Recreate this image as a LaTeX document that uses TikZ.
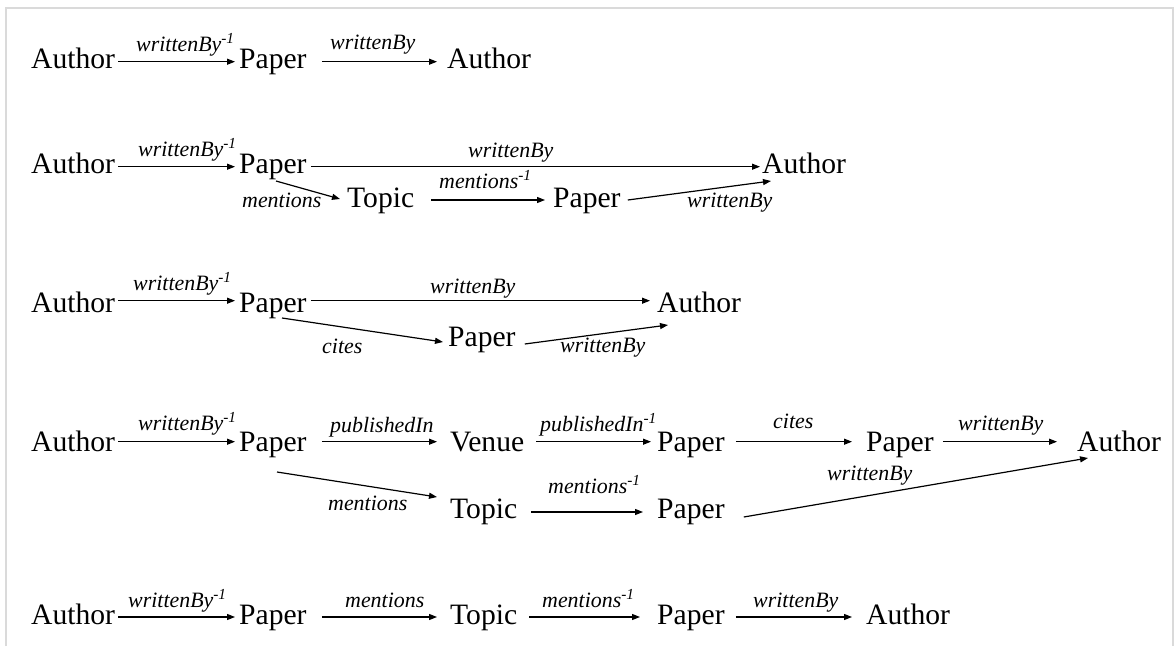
\documentclass[tikz,border=0pt]{standalone}
\usepackage{fontspec}
\setmainfont{Liberation Serif}
\usetikzlibrary{arrows.meta,calc}
\tikzset{
  ent/.style={anchor=base west, inner sep=0pt, font=\fontsize{29.6}{32}\selectfont},
  rel/.style={anchor=base west, inner sep=0pt, font=\fontsize{21.9}{24}\selectfont\itshape},
  arr/.style={line width=1.2pt, -{Triangle[length=8pt,width=6pt]}},
  frame/.style={line width=2pt, draw={rgb,255:red,218;green,218;blue,218}}
}
\newcommand{\inv}{\textsuperscript{-1}}
\begin{document}
\begin{tikzpicture}[x=1pt,y=-1pt]
\useasboundingbox (0,0) rectangle (1175,646);
\draw[frame] (6,646) -- (6,8) -- (1173,8) -- (1173,646);

% ---- path 1: Author - Paper - Author
\node[ent] (a11) at (31,68) {Author};
\node[ent] (p11) at (239,68) {Paper};
\node[ent] (a12) at (447,68) {Author};
\draw[arr] ($(a11.base east)+(3,-6.3)$) -- ($(p11.base west)+(-4,-6.3)$);
\draw[arr] ($(p11.base east)+(15,-6.3)$) -- ($(a12.base west)+(-10,-6.3)$);
\node[rel] (l11) at (136,51) {writtenBy\inv};
\node[rel] (l12) at (330,49) {writtenBy};

% ---- path 2: via Topic
\node[ent] (a21) at (31,173) {Author};
\node[ent] (p21) at (239,173) {Paper};
\node[ent] (a22) at (762,173) {Author};
\node[ent] (t21) at (347,207) {Topic};
\node[ent] (p22) at (553,207) {Paper};
\draw[arr] ($(a21.base east)+(3,-6.3)$) -- ($(p21.base west)+(-4,-6.3)$);
\draw[arr] ($(p21.base east)+(4,-6.3)$) -- ($(a22.base west)+(-2,-6.3)$);
\draw[arr] ($(p21.base west)+(37,8)$) -- ($(t21.base west)+(-7,-8)$);
\draw[arr] ($(t21.base east)+(17,-7)$) -- ($(p22.base west)+(-8,-7)$);
\draw[arr] ($(p22.base east)+(7,-7)$) -- ($(a22.base west)+(9,8)$);
\node[rel] (l21) at (138,156) {writtenBy\inv};
\node[rel] (l22) at (468,157) {writtenBy};
\node[rel] (l23) at (242,207) {mentions};
\node[rel] (l24) at (439,188) {mentions\inv};
\node[rel] (l25) at (687,207) {writtenBy};

% ---- path 3: via cited Paper
\node[ent] (a31) at (31,312) {Author};
\node[ent] (p31) at (239,312) {Paper};
\node[ent] (a32) at (657,312) {Author};
\node[ent] (p32) at (448,346) {Paper};
\draw[arr] ($(a31.base east)+(3,-11.3)$) -- ($(p31.base west)+(-4,-11.3)$);
\draw[arr] ($(p31.base east)+(4,-11.3)$) -- ($(a32.base west)+(-7,-11.3)$);
\draw[arr] ($(p31.base west)+(43,6)$) -- ($(p32.base west)+(-5,-4)$);
\draw[arr] ($(p32.base east)+(9,-2)$) -- ($(a32.base west)+(11,13)$);
\node[rel] (l31) at (133,290) {writtenBy\inv};
\node[rel] (l32) at (430,293) {writtenBy};
\node[rel] (l33) at (322,353) {cites};
\node[rel] (l34) at (560,352) {writtenBy};

% ---- path 4: via Venue and Topic
\node[ent] (a41) at (31,451) {Author};
\node[ent] (p41) at (239,451) {Paper};
\node[ent] (v41) at (450,451) {Venue};
\node[ent] (p42) at (657,451) {Paper};
\node[ent] (p43) at (866,451) {Paper};
\node[ent] (a42) at (1077,451) {Author};
\node[ent] (t41) at (450,518) {Topic};
\node[ent] (p44) at (657,518) {Paper};
\draw[arr] ($(a41.base east)+(3,-9.3)$) -- ($(p41.base west)+(-4,-9.3)$);
\draw[arr] ($(p41.base east)+(15,-9.3)$) -- ($(v41.base west)+(-13,-9.3)$);
\draw[arr] ($(v41.base east)+(12,-9.3)$) -- ($(p42.base west)+(-6,-9.3)$);
\draw[arr] ($(p42.base east)+(11,-9.3)$) -- ($(p43.base west)+(-14,-9.3)$);
\draw[arr] ($(p43.base east)+(9,-9.3)$) -- ($(a42.base west)+(-20,-9.3)$);
\draw[arr] ($(p41.base west)+(38,21)$) -- ($(t41.base west)+(-13,-21)$);
\draw[arr] ($(t41.base east)+(14,-6)$) -- ($(p44.base west)+(-14,-6)$);
\draw[arr] ($(p44.base east)+(19,-1)$) -- ($(a42.base west)+(11,7)$);
\node[rel] (l41) at (138,430) {writtenBy\inv};
\node[rel] (l42) at (330,432) {publishedIn};
\node[rel] (l43) at (540,431) {publishedIn\inv};
\node[rel] (l44) at (773,428) {cites};
\node[rel] (l45) at (958,430) {writtenBy};
\node[rel] (l46) at (328,510) {mentions};
\node[rel] (l47) at (548,493) {mentions\inv};
\node[rel] (l48) at (827,480) {writtenBy};

% ---- path 5: via Topic only
\node[ent] (a51) at (31,624) {Author};
\node[ent] (p51) at (239,624) {Paper};
\node[ent] (t51) at (450,624) {Topic};
\node[ent] (p52) at (657,624) {Paper};
\node[ent] (a52) at (866,624) {Author};
\draw[arr] ($(a51.base east)+(3,-7)$) -- ($(p51.base west)+(-4,-7)$);
\draw[arr] ($(p51.base east)+(15,-7)$) -- ($(t51.base west)+(-13,-7)$);
\draw[arr] ($(t51.base east)+(12,-7)$) -- ($(p52.base west)+(-17,-7)$);
\draw[arr] ($(p52.base east)+(11,-7)$) -- ($(a52.base west)+(-14,-7)$);
\node[rel] (l51) at (128,607) {writtenBy\inv};
\node[rel] (l52) at (345,607) {mentions};
\node[rel] (l53) at (542,607) {mentions\inv};
\node[rel] (l54) at (753,607) {writtenBy};
\end{tikzpicture}
\end{document}
